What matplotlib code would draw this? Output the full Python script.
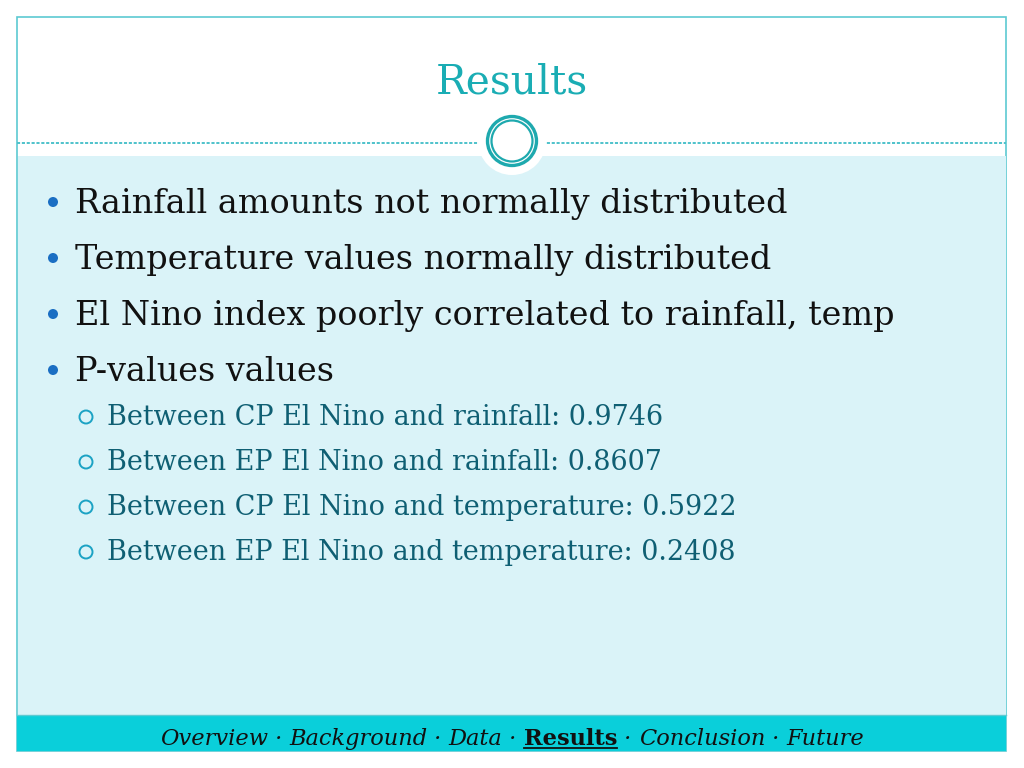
import matplotlib
matplotlib.use("Agg")
import matplotlib.pyplot as plt
from matplotlib.patches import Rectangle, Circle

title = "Results"
main_bullets = [
    "Rainfall amounts not normally distributed",
    "Temperature values normally distributed",
    "El Nino index poorly correlated to rainfall, temp",
    "P-values values",
]
sub_labels = [
    "Between CP El Nino and rainfall",
    "Between EP El Nino and rainfall",
    "Between CP El Nino and temperature",
    "Between EP El Nino and temperature",
]
p_values = ["0.9746", "0.8607", "0.5922", "0.2408"]
nav_items = ["Overview", "Background", "Data", "Results", "Conclusion", "Future"]
current_item = "Results"

SERIF = ["DejaVu Serif", "Liberation Serif"]
TEAL = "#1AADB4"
PANEL = "#DAF3F8"
FOOT = "#0ACFDA"

fig = plt.figure(figsize=(10.24, 7.68), dpi=100)
ax = fig.add_axes([0, 0, 1, 1])
ax.set_xlim(0, 1024)
ax.set_ylim(768, 0)
ax.axis("off")
fig.canvas.draw()
renderer = fig.canvas.get_renderer()


def fit(artist, target_w):
    w = artist.get_window_extent(renderer).width
    artist.set_fontsize(artist.get_fontsize() * target_w / w)


# frame and panels
ax.add_patch(Rectangle((17, 17), 989, 734, facecolor="white", edgecolor="#5CCAD2", lw=1.2, zorder=0))
ax.add_patch(Rectangle((17.6, 156), 988, 559, facecolor=PANEL, edgecolor="none", zorder=1))
ax.add_patch(Rectangle((17, 715), 989, 36, facecolor=FOOT, edgecolor="none", zorder=1))
ax.plot([17, 1006], [715, 715], color="#5CCAD2", lw=1, zorder=2)
ax.plot([17, 1006], [143, 143], color="#4EC2CB", lw=1.4, ls=(0, (1.6, 0.9)), zorder=2)

# central ornament
ax.add_patch(Circle((512, 141), 34, facecolor="white", edgecolor="none", zorder=3))
ax.add_patch(Circle((512, 141), 24.5, facecolor="white", edgecolor="#1EA9AE", lw=2.4, zorder=4))
ax.add_patch(Circle((512, 141), 20.5, facecolor="none", edgecolor="#1EA9AE", lw=1.6, zorder=4))

# title
t = ax.text(512, 93, title, fontsize=30, color=TEAL, family=SERIF, ha="center", va="baseline", zorder=5)
fit(t, 152)

# main bullets
main_base = [213, 269, 325, 381]
main_fs = None
for y, s in zip(main_base, main_bullets):
    ax.add_patch(Circle((53, y - 11), 5.0, facecolor="#1A6EC3", edgecolor="none", zorder=5))
    a = ax.text(75, y, s, fontsize=24, color="#111111", family=SERIF, ha="left", va="baseline", zorder=5)
    if main_fs is None:
        fit(a, 715)
        main_fs = a.get_fontsize()
    else:
        a.set_fontsize(main_fs)

# sub bullets
sub_base = [425, 470, 515, 560]
sub_fs = None
for y, lab, p in zip(sub_base, sub_labels, p_values):
    ax.add_patch(Circle((86, y - 8), 6.5, facecolor="none", edgecolor="#1BA2C4", lw=1.4, zorder=5))
    a = ax.text(107, y, f"{lab}: {p}", fontsize=19, color="#0F5F73", family=SERIF, ha="left", va="baseline", zorder=5)
    if sub_fs is None:
        fit(a, 556)
        sub_fs = a.get_fontsize()
    else:
        a.set_fontsize(sub_fs)

# footer navigation
pieces = []
for i, item in enumerate(nav_items):
    if i > 0:
        pieces.append((" \u00b7 ", False))
    pieces.append((item, item == current_item))

base_y = 745
artists = []
for txt, cur in pieces:
    a = ax.text(0, base_y, txt, fontsize=16, family=SERIF, color="#111111",
                style="normal" if cur else "italic", weight="bold" if cur else "normal",
                ha="left", va="baseline", zorder=6)
    artists.append((a, cur))
total = sum(a.get_window_extent(renderer).width for a, _ in artists)
scale = 705 / total
for a, _ in artists:
    a.set_fontsize(a.get_fontsize() * scale)
widths = [a.get_window_extent(renderer).width for a, _ in artists]
x = 512 - sum(widths) / 2
for (a, cur), w in zip(artists, widths):
    a.set_x(x)
    if cur:
        ax.plot([x, x + w], [base_y + 3, base_y + 3], color="#111111", lw=1.3, zorder=6)
    x += w

fig.savefig("out.png", dpi=100)
